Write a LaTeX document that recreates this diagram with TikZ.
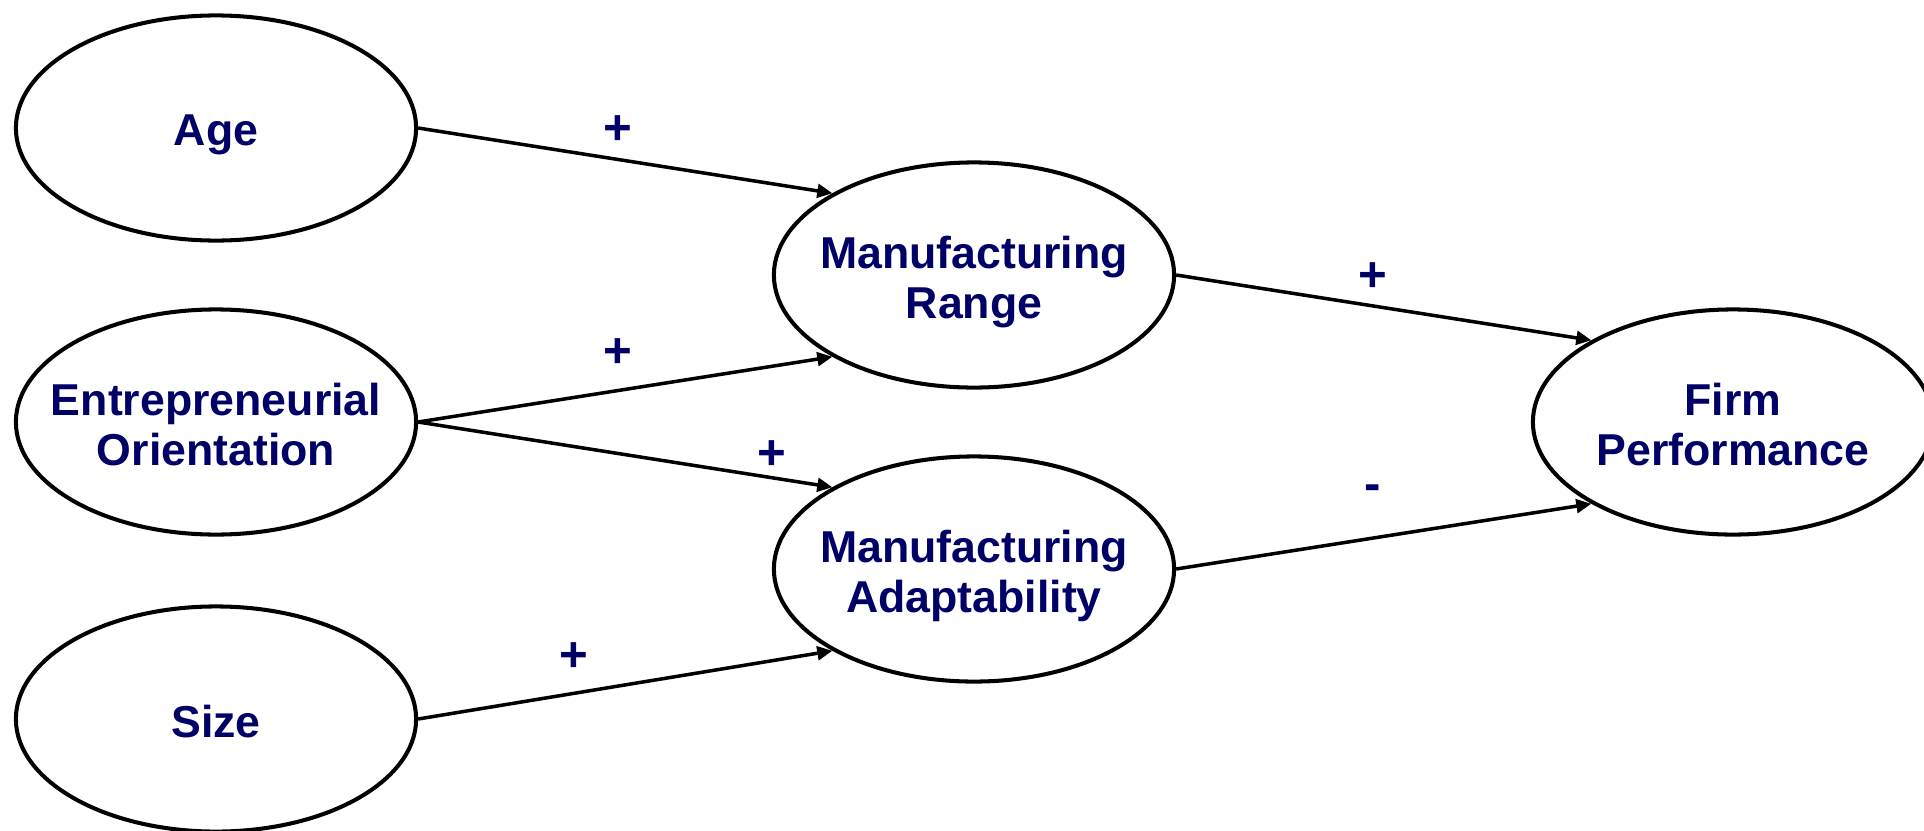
\documentclass[tikz,border=0pt]{standalone}
\usepackage{fontspec}
\setmainfont{Liberation Sans}
\usetikzlibrary{shapes.geometric,arrows.meta}

\definecolor{navy}{RGB}{0,0,102}

\tikzset{
    factor/.style={draw,ellipse,line width=1.15pt,inner sep=0pt,
        minimum width=4.0cm,minimum height=2.25cm},
    txt/.style={text=navy,align=center,inner sep=0pt,yshift=#1,
        font=\fontsize{12.7}{14.2}\selectfont\bfseries},
    txt/.default=-2pt,
    sign/.style={text=navy,inner sep=0pt,
        font=\fontsize{14}{16}\selectfont\bfseries},
    arr/.style={line width=1pt,-{Triangle[length=4.3pt,width=3.9pt]}}
}

\begin{document}
\begin{tikzpicture}[x=0.01cm,y=-0.01cm]
    \useasboundingbox (0,0) rectangle (1924,830);

    \node[factor,label={[txt]center:Age}] (age) at (216,128) {};
    \node[factor,label={[txt=-0.6pt]center:{Entrepreneurial\\Orientation}}] (eo) at (216,422) {};
    \node[factor,label={[txt=-0.6pt]center:Size}] (size) at (216,719) {};
    \node[factor,label={[txt]center:{Manufacturing\\Range}}] (mr) at (974,275) {};
    \node[factor,label={[txt]center:{Manufacturing\\Adaptability}}] (ma) at (974,569) {};
    \node[factor,label={[txt=-0.6pt]center:{Firm\\Performance}}] (fp) at (1733,422) {};

    \draw[arr] (age.east) -- (mr.150);
    \draw[arr] (eo.east) -- (mr.210);
    \draw[arr] (eo.east) -- (ma.150);
    \draw[arr] (size.east) -- (ma.210);
    \draw[arr] (mr.east) -- (fp.150);
    \draw[arr] (ma.east) -- (fp.210);

    \node[sign] (s1) at (618,130) {+};
    \node[sign] (s2) at (618,353) {+};
    \node[sign] (s3) at (772,455) {+};
    \node[sign] (s4) at (574,657) {+};
    \node[sign] (s5) at (1373,277) {+};
    \node[sign] (s6) at (1373,493) {-};
\end{tikzpicture}
\end{document}
